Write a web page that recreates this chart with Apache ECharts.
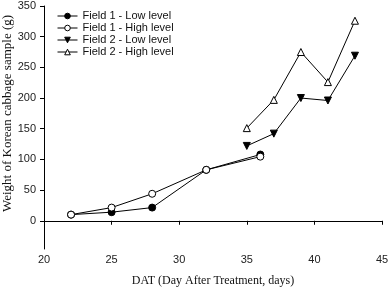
<!DOCTYPE html>
<html>
<head>
<meta charset="utf-8">
<script src="https://cdn.jsdelivr.net/npm/echarts@6/dist/echarts.min.js"></script>
<style>
  html, body { margin: 0; padding: 0; background: #fff; }
  #main { width: 388px; height: 290px; }
</style>
</head>
<body>
<div id="main"></div>
<script>
// values
const f1Days = [22, 25, 28, 32, 36];
const f1Low = [10, 14, 21.5, 83, 108];
const f1High = [10, 21.5, 44, 83, 104.5];
const f2Days = [35, 37, 39, 41, 43];
const f2Low = [122, 142, 200, 196, 269];
const f2High = [151, 197, 275, 226, 326];
const yTicks = [0, 50, 100, 150, 200, 250, 300, 350];

const pairs = (xs, ys) => xs.map((x, i) => [x, ys[i]]);

const makeSeries = (name, xs, ys, symbol, fill, rotate) => ({
    name: name,
    type: 'line',
    data: pairs(xs, ys),
    symbol: symbol,
    symbolSize: 7,
    symbolRotate: rotate || 0,
    lineStyle: { color: '#000', width: 1 },
    itemStyle: { color: fill, borderColor: '#000', borderWidth: 1 },
    emphasis: { disabled: true },
    animation: false
});

let myChart = echarts.init(document.getElementById('main'));
myChart.setOption({
    backgroundColor: '#fff',
    grid: { left: 44, right: 6, top: 6, bottom: 41, outerBoundsMode: 'none', containLabel: false },
    legend: {
        orient: 'vertical',
        left: 57,
        top: 10,
        padding: 0,
        itemWidth: 20,
        itemHeight: 7,
        itemGap: 0,
        lineStyle: { width: 1 },
        itemStyle: { borderWidth: 1 },
        textStyle: { fontFamily: 'Liberation Sans', fontSize: 11, lineHeight: 12, color: '#111' },
        data: ['Field 1 - Low level', 'Field 1 - High level', 'Field 2 - Low level', 'Field 2 - High level']
    },
    xAxis: {
        type: 'value',
        min: 20,
        max: 45,
        interval: 5,
        name: 'DAT (Day After Treatment, days)',
        nameLocation: 'middle',
        nameGap: 26,
        nameMoveOverlap: false,
        nameTextStyle: { fontFamily: 'Liberation Serif', fontSize: 12, color: '#111' },
        splitLine: { show: false },
        axisLine: { lineStyle: { color: '#000' } },
        axisTick: { inside: false, length: 4, lineStyle: { color: '#000' } },
        axisLabel: { fontFamily: 'Liberation Sans', fontSize: 11, color: '#222', margin: 5 }
    },
    yAxis: {
        type: 'value',
        min: -46,
        max: 350,
        name: 'Weight of Korean cabbage sample (g)',
        nameLocation: 'middle',
        nameGap: 30,
        nameMoveOverlap: false,
        nameTextStyle: { fontFamily: 'Liberation Serif', fontSize: 13, color: '#111', padding: [0, 0, 0, 28] },
        splitLine: { show: false },
        axisLine: { show: true, onZero: false, lineStyle: { color: '#000' } },
        axisTick: { show: true, length: 4, customValues: yTicks, lineStyle: { color: '#000' } },
        axisLabel: { fontFamily: 'Liberation Sans', fontSize: 11, color: '#222', margin: 8, customValues: yTicks }
    },
    series: [
        makeSeries('Field 1 - Low level', f1Days, f1Low, 'circle', '#000'),
        makeSeries('Field 1 - High level', f1Days, f1High, 'circle', '#fff'),
        makeSeries('Field 2 - Low level', f2Days, f2Low, 'triangle', '#000', 180),
        makeSeries('Field 2 - High level', f2Days, f2High, 'triangle', '#fff')
    ]
});
</script>
</body>
</html>
